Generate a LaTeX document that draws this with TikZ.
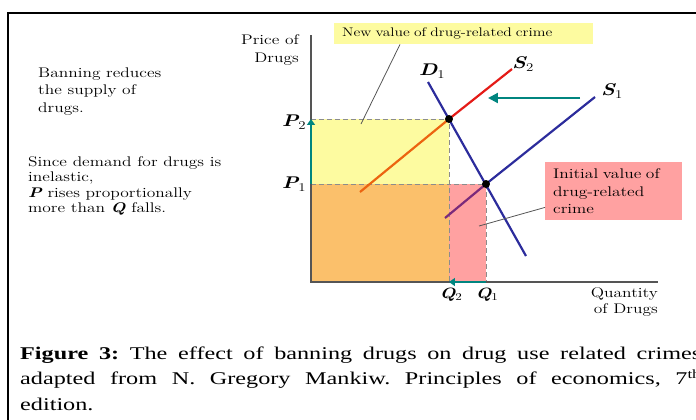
\documentclass[tikz,border=0pt]{standalone}
\usepackage{fontspec}
\newfontfamily\capfont[FakeStretch=1.35]{Liberation Serif}
\newfontfamily\diagfont[FakeStretch=1.25]{Latin Modern Roman}
\usetikzlibrary{arrows.meta}
\frenchspacing
\definecolor{gelb}{HTML}{FDFBA0}
\definecolor{orangefl}{HTML}{FBC06B}
\definecolor{rosa}{HTML}{FFA1A1}
\definecolor{petrol}{HTML}{00857F}
\definecolor{dblau}{HTML}{2C2C9C}
\definecolor{rot}{HTML}{E41B17}
\definecolor{orangel}{HTML}{EC6410}
\definecolor{lila}{HTML}{7B2A7B}
\definecolor{grau}{HTML}{555555}
\definecolor{hgrau}{HTML}{8C8C8C}
\newcommand{\idx}[1]{\textsubscript{\mdseries\upshape #1}}
\tikzset{
  ax/.style={grau,line width=1.2pt},
  kurve/.style={line width=2.2pt},
  hilf/.style={hgrau,dash pattern=on 5pt off 3pt,line width=0.8pt},
  verschieb/.style={-{Triangle[length=10pt,width=10pt]},petrol,line width=2.2pt},
  verschiebk/.style={-{Triangle[length=6pt,width=8pt]},petrol,line width=2pt},
  zeiger/.style={grau,line width=0.8pt},
  txt/.style={inner sep=0pt,align=left,font=\diagfont\fontsize{14}{17.5}\selectfont},
  lbl/.style={inner sep=0pt,font=\diagfont\fontsize{17}{20}\selectfont\bfseries\itshape},
  punkt/.style={circle,fill=black,inner sep=0pt,minimum size=8pt},
}

\begin{document}
\begin{tikzpicture}[x=1bp,y=-1bp]
  \useasboundingbox (0,0) rectangle (696,419);
  \clip (0,0) rectangle (696,419);
  \draw[black,line width=2pt] (8,430) -- (8,13) -- (710,13);
  \coordinate (O) at (311,282);
  \coordinate (E2) at (449,119);
  \coordinate (E1) at (486,184);
  \coordinate (P2) at (311,119);
  \coordinate (P1) at (311,184);
  \coordinate (Q2) at (449,282);
  \coordinate (Q1) at (486,282);
  \coordinate (s2a) at (360,192);
  \coordinate (s2b) at (512,69);
  \coordinate (s1a) at (445,218);
  \coordinate (s1b) at (595,97);
  \coordinate (d1a) at (428,82);
  \coordinate (d1b) at (526,256);
  \fill[gelb] (P2) rectangle (449,184);
  \fill[orangefl] (P1) rectangle (Q2);
  \fill[rosa] (449,184) rectangle (Q1);
  \draw[hilf] (P2) -- (E2) -- (Q2);
  \draw[hilf] (P1) -- (E1) -- (Q1);
  \draw[ax] (311,35) -- (O) -- (658,282);
  \draw[kurve,orangel] (s2a) -- (E2);
  \draw[kurve,rot] (E2) -- (s2b);
  \draw[kurve,lila] (s1a) -- (E1);
  \draw[kurve,dblau] (E1) -- (s1b);
  \draw[kurve,dblau] (d1a) -- (d1b);
  \node[punkt] (pe2) at (E2) {};
  \node[punkt] (pe1) at (E1) {};
  \draw[verschieb] (580,98) -- (488,98);
  \draw[verschiebk] (P1) -- (P2);
  \draw[verschiebk] (Q1) -- (Q2);
  \node[lbl] (lp2) at (294,122) {P\idx{2}};
  \node[lbl] (lp1) at (294,184) {P\idx{1}};
  \node[lbl,font=\diagfont\fontsize{15}{18}\selectfont\bfseries\itshape] (lq2) at (451,295) {Q\idx{2}};
  \node[lbl,font=\diagfont\fontsize{15}{18}\selectfont\bfseries\itshape] (lq1) at (487,295) {Q\idx{1}};
  \node[lbl] (ls2) at (523,64) {S\idx{2}};
  \node[lbl] (ls1) at (612,91) {S\idx{1}};
  \node[lbl] (ld1) at (432,71) {D\idx{1}};
  \node[txt,anchor=north east,align=right,font=\diagfont\fontsize{14}{19}\selectfont] (pricelbl) at (299,34) {Price of\\Drugs};
  \node[txt,anchor=north east,align=right,font=\diagfont\fontsize{14}{17}\selectfont] (qtylbl) at (658,287) {Quantity\\of Drugs};
  \node[txt,anchor=north west] (bann) at (38,67.3) {Banning reduces\\the supply of\\drugs.};
  \node[txt,anchor=north west,font=\diagfont\fontsize{14}{15.5}\selectfont] (elast) at (28,156.3) {Since demand for drugs is\\inelastic,\\{\bfseries\itshape P} rises proportionally\\more than {\bfseries\itshape Q} falls.};
  \node[fill=gelb,anchor=north west,minimum height=21bp,inner xsep=8bp,inner ysep=0pt,text width=243bp,align=left,font=\diagfont\fontsize{12.5}{15}\selectfont] (newbox) at (334,23) {New value of drug-related crime};
  \node[fill=rosa,anchor=north west,minimum height=58bp,inner xsep=8bp,inner ysep=0pt,text width=121bp,align=left,font=\diagfont\fontsize{14}{17.5}\selectfont] (initbox) at (545,162) {Initial value of\\drug-related\\crime};
  \coordinate (nvtip) at (361,124);
  \coordinate (ivtip) at (479,226);
  \draw[zeiger] (newbox.south west) ++(66,0) -- (nvtip);
  \draw[zeiger] (initbox.south west) ++(0,-13) -- (ivtip);
  \node[anchor=north west,inner sep=0pt,align=left,font=\capfont\fontsize{18}{25.5}\selectfont] (cap) at (20,346.7) {\makebox[681bp][s]{\textbf{Figure 3:} The effect of banning drugs on drug use related crimes}\\\makebox[681bp][s]{adapted from N. Gregory Mankiw. Principles of economics, 7\textsuperscript{th}}\\edition.};
\end{tikzpicture}
\end{document}
